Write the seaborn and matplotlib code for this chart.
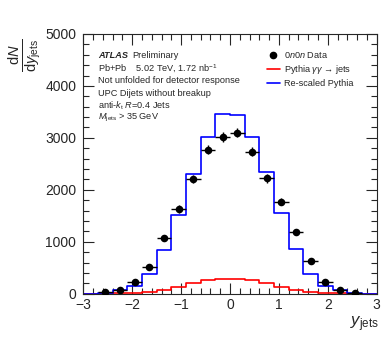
import numpy as np
import pandas as pd
import seaborn as sns
from matplotlib import pyplot as plt
from matplotlib.lines import Line2D
from matplotlib.ticker import MultipleLocator

# rapidity bins (width 0.3) and histogram contents
bin_centers = [-2.85, -2.55, -2.25, -1.95, -1.65, -1.35, -1.05, -0.75, -0.45, -0.15,
               0.15, 0.45, 0.75, 1.05, 1.35, 1.65, 1.95, 2.25, 2.55, 2.85]
bin_edges = [-3.0, -2.7, -2.4, -2.1, -1.8, -1.5, -1.2, -0.9, -0.6, -0.3, 0.0,
             0.3, 0.6, 0.9, 1.2, 1.5, 1.8, 2.1, 2.4, 2.7, 3.0]
rescaled_pythia = [0, 5, 63, 154, 378, 840, 1520, 2300, 3010, 3460,
                   3440, 3010, 2340, 1550, 860, 385, 154, 77, 15, 0]
pythia = [0, 2, 8, 20, 38, 72, 132, 200, 262, 293,
          290, 262, 200, 128, 75, 42, 20, 8, 2, 0]

# 0n0n data points
data_x = [-2.55, -2.25, -1.95, -1.65, -1.35, -1.05, -0.75, -0.45, -0.15,
          0.15, 0.45, 0.75, 1.05, 1.35, 1.65, 1.95, 2.25, 2.55]
data_y = [25, 77, 228, 519, 1077, 1629, 2210, 2775, 3015,
          3100, 2735, 2220, 1772, 1185, 635, 235, 80, 22]
data_yerr = [10, 20, 30, 45, 60, 70, 80, 85, 90,
             90, 85, 80, 70, 60, 45, 30, 20, 10]
data_xerr = 0.15

sns.set_style("ticks")
plt.rcParams['font.family'] = ['Liberation Sans', 'DejaVu Sans']
plt.rcParams['mathtext.fontset'] = 'custom'
plt.rcParams['mathtext.rm'] = 'Liberation Sans'
plt.rcParams['mathtext.it'] = 'Liberation Sans:italic'
plt.rcParams['mathtext.bf'] = 'Liberation Sans:bold'

fig = plt.figure(figsize=(3.83, 3.38), dpi=100)
ax = fig.add_axes([0.2175, 0.131, 0.766, 0.7685])

hist_df = pd.DataFrame({"y": bin_centers, "pythia": pythia, "rescaled": rescaled_pythia})
sns.histplot(data=hist_df, x="y", weights="pythia", bins=bin_edges, element="step",
             fill=False, color="#ff0000", linewidth=1.2, ax=ax)
sns.histplot(data=hist_df, x="y", weights="rescaled", bins=bin_edges, element="step",
             fill=False, color="#0000ff", linewidth=1.2, ax=ax)

ax.errorbar(data_x, data_y, xerr=data_xerr, yerr=data_yerr, fmt="none",
            ecolor="black", elinewidth=1.0, zorder=4)
sns.scatterplot(x=data_x, y=data_y, color="black", s=30, edgecolor="black",
                linewidth=0, zorder=5, ax=ax)

ax.set_xlim(-3, 3)
ax.set_ylim(0, 5000)
ax.xaxis.set_major_locator(MultipleLocator(1))
ax.xaxis.set_minor_locator(MultipleLocator(0.2))
ax.yaxis.set_major_locator(MultipleLocator(1000))
ax.yaxis.set_minor_locator(MultipleLocator(200))
ax.tick_params(which="both", direction="in", top=True, right=True, labelsize=10)
ax.tick_params(which="major", length=8, width=0.8)
ax.tick_params(which="minor", length=4, width=0.8)
ax.tick_params(axis="y", pad=5)
ax.tick_params(axis="x", pad=3)
for sp in ax.spines.values():
    sp.set_linewidth(0.8)
ax.set_xlabel("")
ax.set_ylabel("")

fig.text(0.065, 1 - 55 / 338, r'$\frac{\mathrm{d}N}{\mathrm{d}y_{\mathrm{jets}}}$',
         rotation=90, fontsize=15, ha="center", va="center")
fig.text(0.99, 0.035, r'$y_{\mathrm{jets}}$', fontsize=12, ha="right", va="baseline")

# ATLAS label block
lines = [r'Pb+Pb    5.02 TeV, 1.72 nb$^{-1}$',
         'Not unfolded for detector response',
         'UPC Dijets without breakup',
         r'anti-$k_{\mathrm{t}}$ $R$=0.4 Jets',
         r'$M_{\mathrm{jets}}$ > 35 GeV']
fig.text(0.257, 1 - 56 / 338, 'ATLAS', fontsize=6.6, weight="bold", style="italic",
         va="center")
fig.text(0.345, 1 - 56 / 338, 'Preliminary', fontsize=6.6, va="center")
for i, t in enumerate(lines):
    fig.text(0.257, 1 - (68.5 + 12.4 * i) / 338, t, fontsize=6.6, va="center")

handles = [Line2D([], [], marker="o", color="black", linestyle="none", markersize=4.5),
           Line2D([], [], color="#ff0000", linewidth=1.2),
           Line2D([], [], color="#0000ff", linewidth=1.2)]
labels = [r'$\mathit{0n0n}$ Data', r'Pythia $\gamma\gamma$ → jets', 'Re-scaled Pythia']
ax.legend(handles, labels, loc="upper right", bbox_to_anchor=(0.95, 0.97), frameon=False,
          fontsize=6.6, handlelength=1.4, handletextpad=0.5, labelspacing=0.35)

fig.savefig("out.png", dpi=100)
